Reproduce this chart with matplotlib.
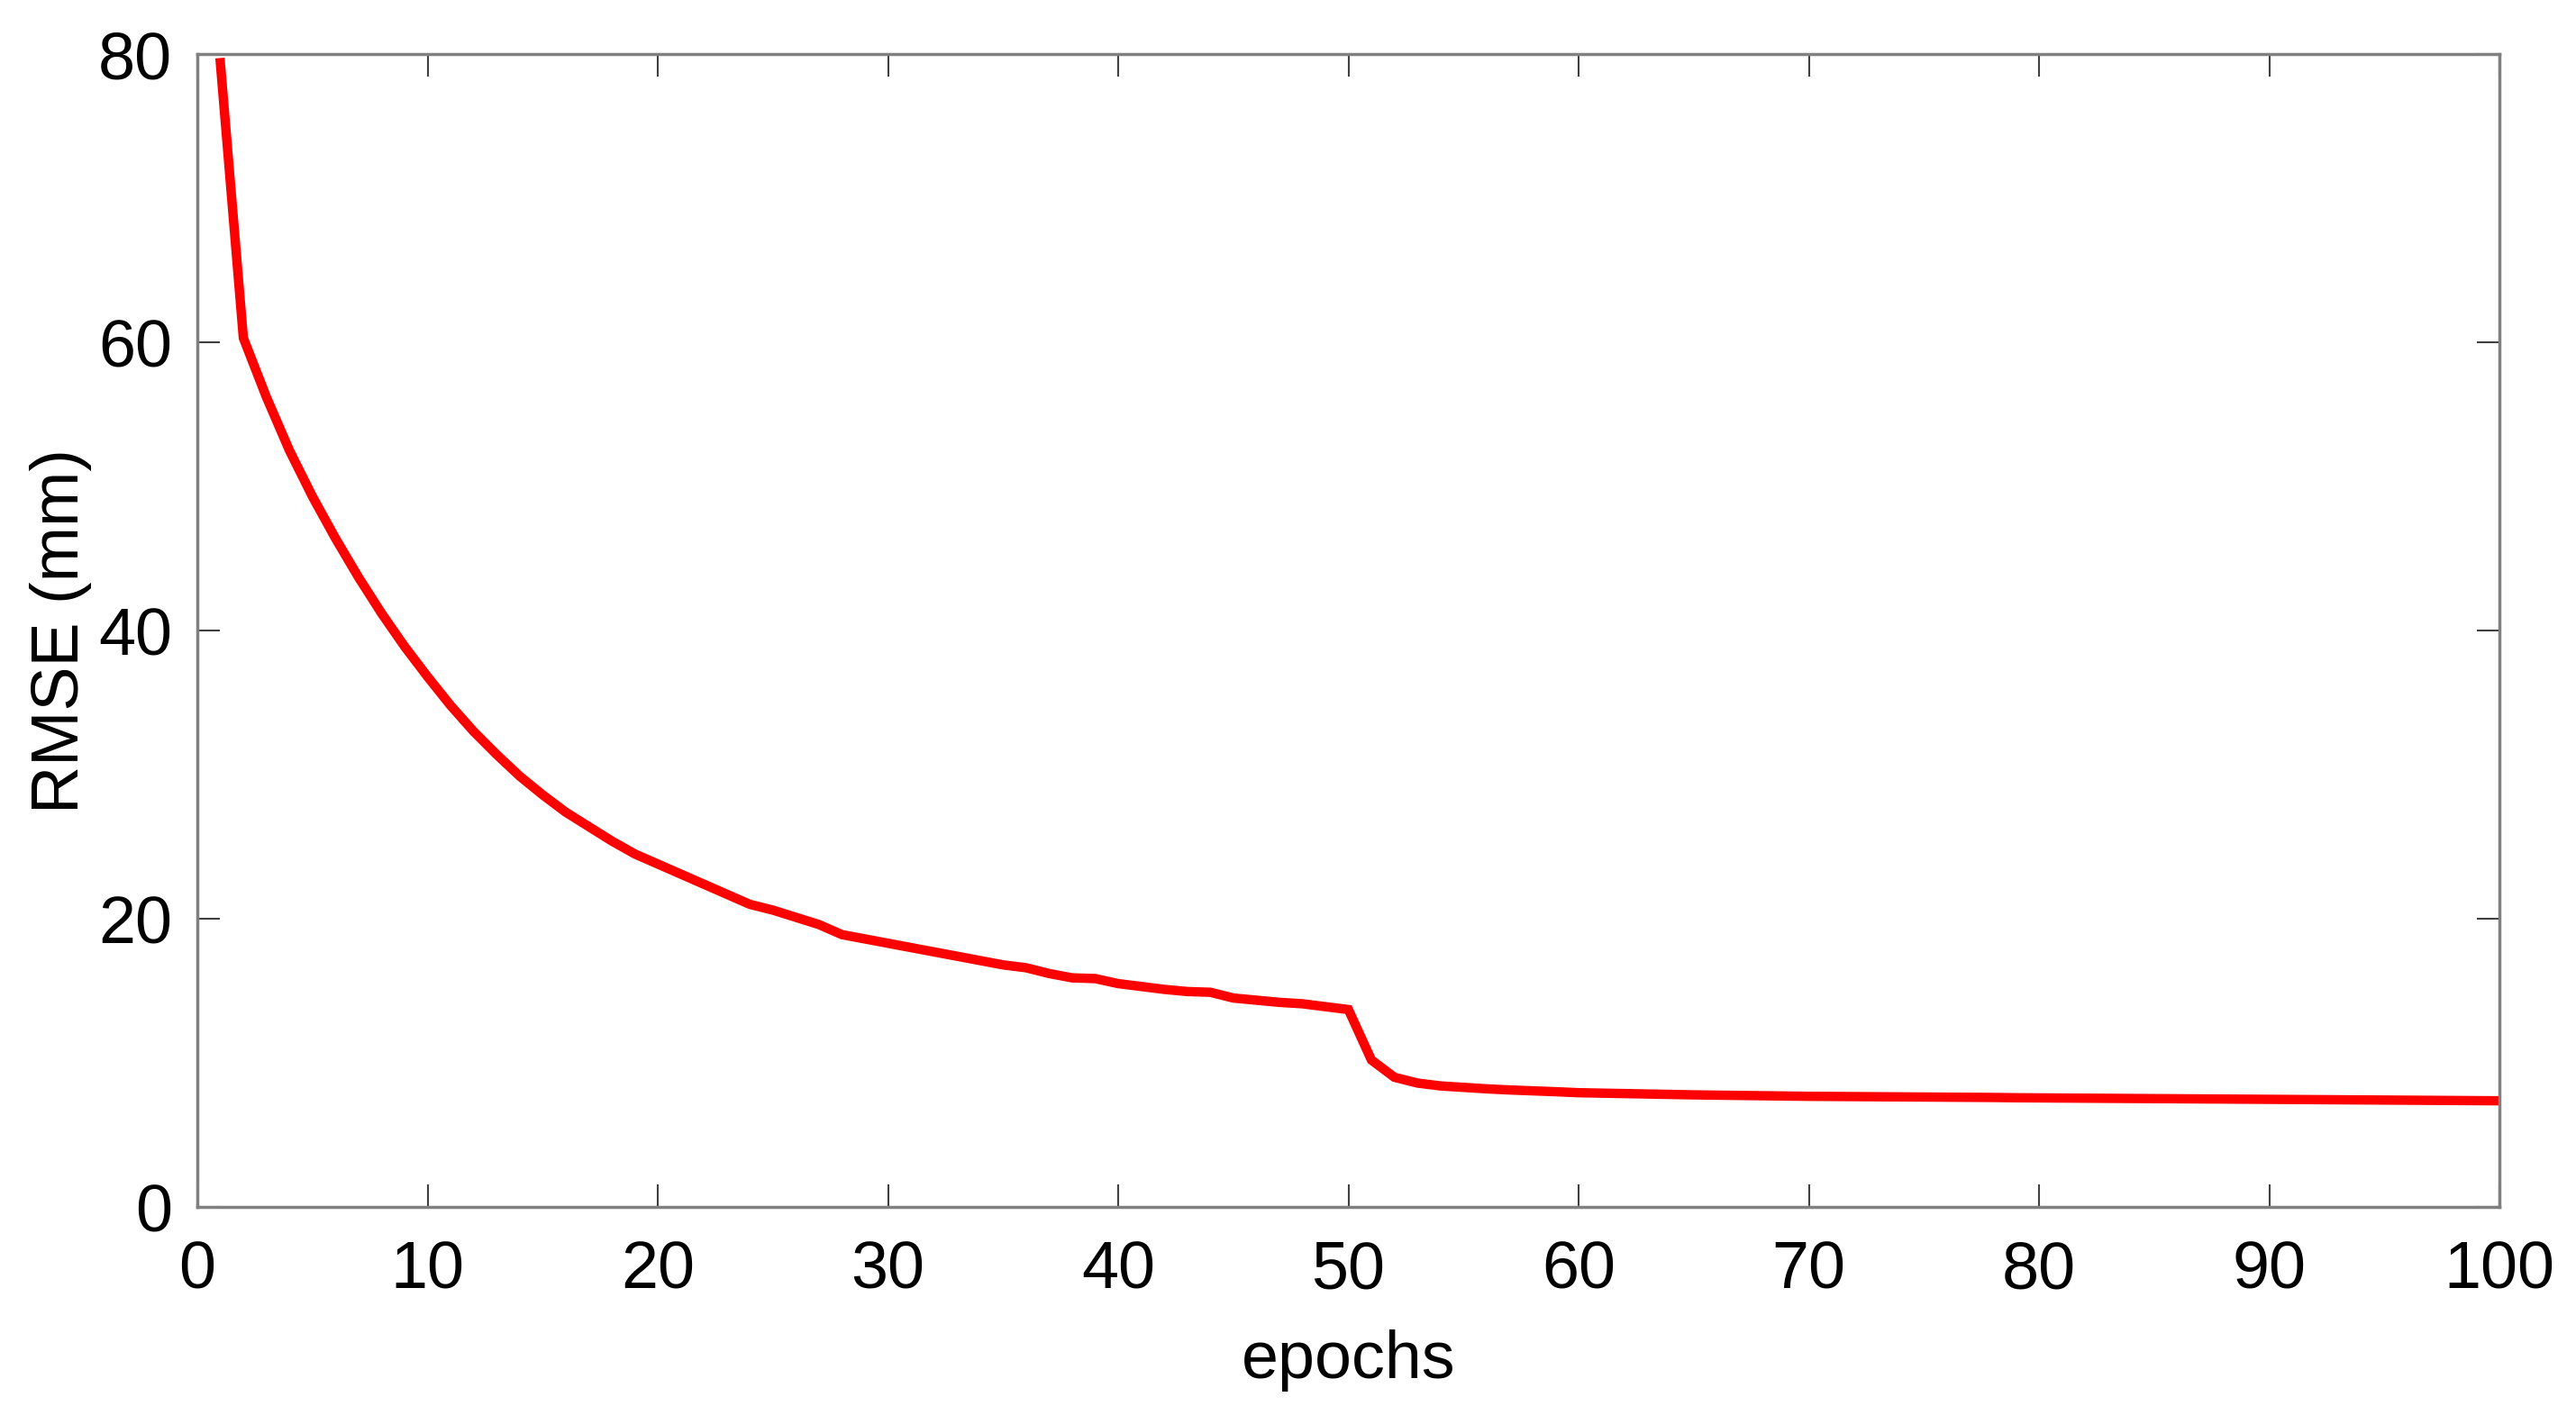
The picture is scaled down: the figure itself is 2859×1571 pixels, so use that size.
import numpy as np
import matplotlib
matplotlib.use('Agg')
import matplotlib.pyplot as plt

# RMSE per epoch
epochs = list(range(1, 101))
rmse = [
    79.4, 60.3, 56.2, 52.5, 49.3, 46.4, 43.7, 41.2, 38.9, 36.8,
    34.8, 33.0, 31.4, 29.9, 28.6, 27.4, 26.4, 25.4, 24.5, 23.8,
    23.1, 22.4, 21.7, 21.0, 20.6, 20.1, 19.6, 18.9, 18.6, 18.3,
    18.0, 17.7, 17.4, 17.1, 16.8, 16.6, 16.2, 15.9, 15.85, 15.5,
    15.3, 15.1, 14.95, 14.9, 14.5, 14.35, 14.2, 14.1, 13.9, 13.7,
    10.2, 9.0, 8.6, 8.4, 8.3, 8.2, 8.12, 8.06, 8.0, 7.93,
    7.90, 7.87, 7.84, 7.81, 7.78, 7.76, 7.74, 7.72, 7.70, 7.68,
    7.67, 7.66, 7.65, 7.64, 7.63, 7.62, 7.61, 7.60, 7.58, 7.57,
    7.56, 7.55, 7.54, 7.53, 7.52, 7.51, 7.50, 7.49, 7.48, 7.47,
    7.46, 7.45, 7.44, 7.43, 7.42, 7.41, 7.40, 7.39, 7.38, 7.37,
]
xticks = list(range(0, 101, 10))
yticks = [0, 20, 40, 60, 80]

plt.rcParams['font.family'] = ['Liberation Sans', 'DejaVu Sans']

fig = plt.figure(figsize=(28.59, 15.71), dpi=100)
ax = fig.add_axes([0.0766, 0.147, 0.8937, 0.8148])

ax.plot(epochs, rmse, color='#ff0000', linewidth=7.5, solid_joinstyle='miter')

ax.set_xlim(0, 100)
ax.set_ylim(0, 80)
ax.set_xticks(xticks)
ax.set_yticks(yticks)
ax.tick_params(direction='in', length=18, width=1.5, color='#404040',
               labelsize=53, top=True, right=True, pad=26)
ax.tick_params(axis='y', pad=20)
for s in ax.spines.values():
    s.set_color('#808080')
    s.set_linewidth(2.5)

ax.set_xlabel('epochs', fontsize=53, labelpad=22)
ax.set_ylabel('RMSE (mm)', fontsize=53, labelpad=5)

fig.savefig('out.png', dpi=100, facecolor='white')
